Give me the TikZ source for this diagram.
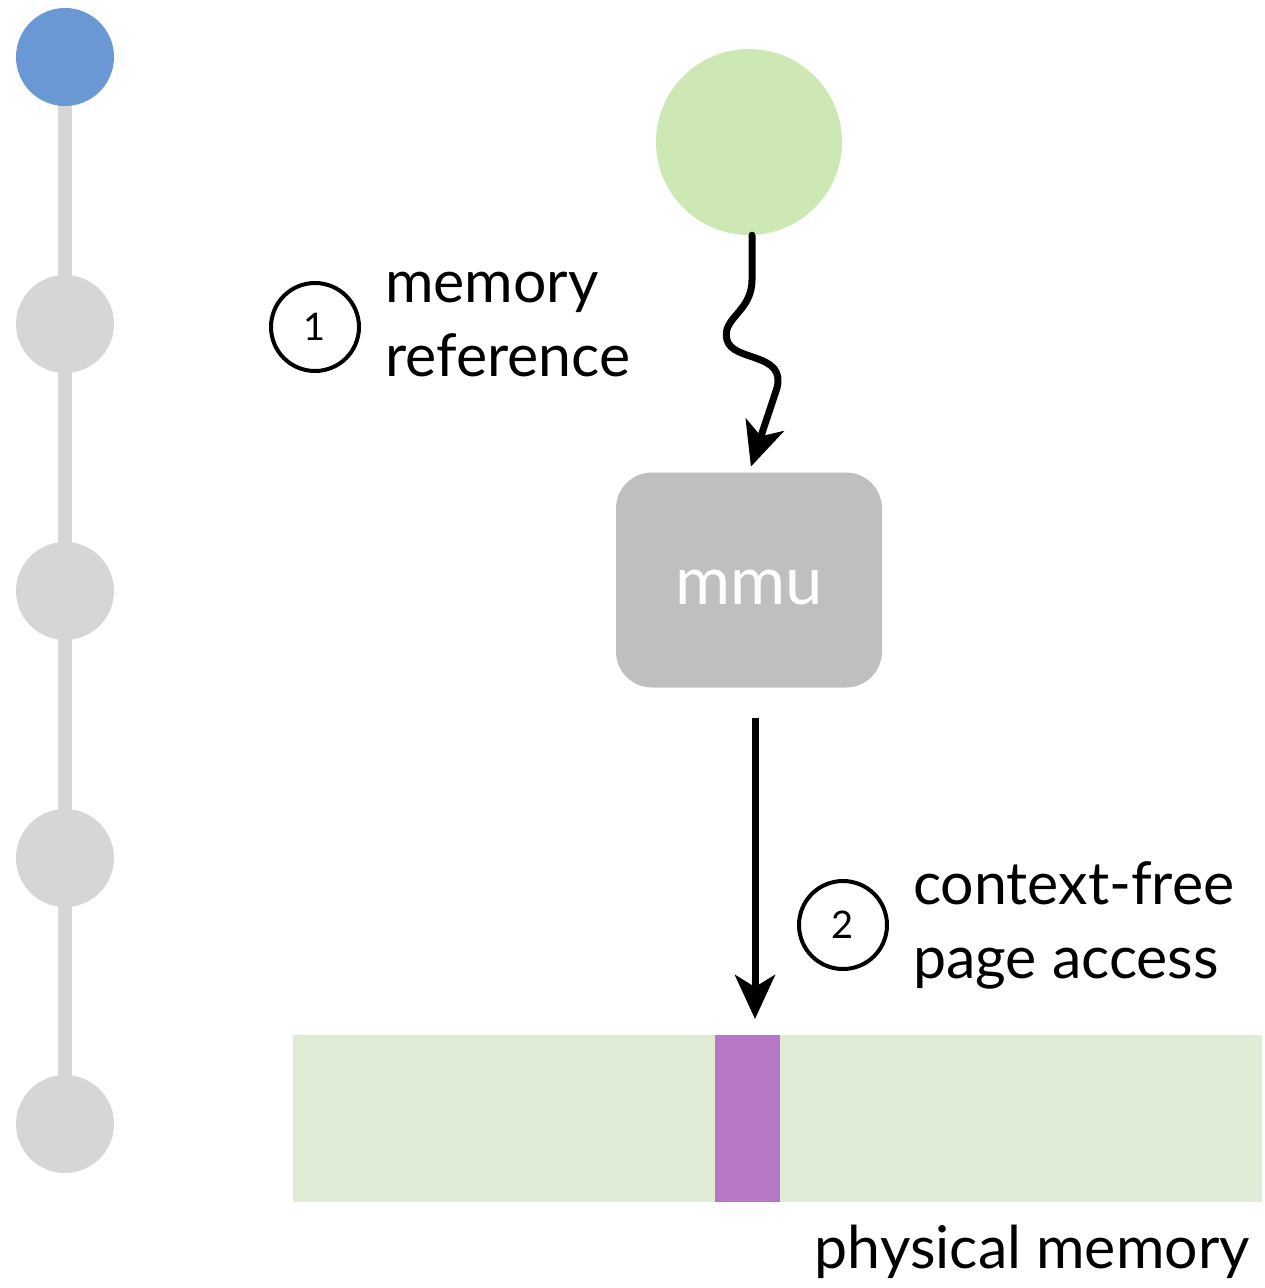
\documentclass[tikz,border=0pt]{standalone}
\usepackage{fontspec}
\setmainfont{Lato}
\usetikzlibrary{arrows.meta}

\definecolor{railgray}{HTML}{D6D6D6}
\definecolor{stepblue}{HTML}{6A98D5}
\definecolor{procgreen}{HTML}{CDE8B5}
\definecolor{mmugray}{HTML}{BFBFBF}
\definecolor{memgreen}{HTML}{E0EBD5}
\definecolor{pagepurple}{HTML}{B677C5}

\tikzset{
  stepdot/.style={circle, fill=railgray, minimum size=98pt, inner sep=0pt},
  numbadge/.style={circle, draw=black, line width=4pt, minimum size=88pt, inner sep=0pt,
    font=\fontsize{38}{44}\selectfont},
  bigtext/.style={inner sep=0pt, align=left, font=\fontsize{59}{74}\selectfont},
  flowarrow/.style={line width=7pt, -{Stealth[length=44pt, width=40pt, inset=12pt]}},
}

\begin{document}
\begin{tikzpicture}[x=1pt, y=-1pt]
  \useasboundingbox (0,0) rectangle (1264,1288);

  % progress rail on the left
  \draw[railgray, line width=14pt] (65,57) -- (65,1124);
  \node[stepdot, fill=stepblue] (s1) at (65,57) {};
  \node[stepdot] (s2) at (65,324) {};
  \node[stepdot] (s3) at (65,591) {};
  \node[stepdot] (s4) at (65,858) {};
  \node[stepdot] (s5) at (65,1124) {};

  % process and mmu
  \node[circle, fill=procgreen, minimum size=186pt, inner sep=0pt] (proc) at (749,142) {};
  \node[rectangle, rounded corners=36pt, fill=mmugray, minimum width=266pt,
        minimum height=215pt, inner sep=0pt] (mmu) at (749,580) {};
  \node[text=white, font=\fontsize{67}{67}\selectfont] (mmulabel) at (749,588) {mmu};

  % physical memory strip
  \node[rectangle, fill=memgreen, minimum width=969pt, minimum height=167pt,
        inner sep=0pt, anchor=north west] (mem) at (293,1035) {};
  \node[rectangle, fill=pagepurple, minimum width=65pt, minimum height=167pt,
        inner sep=0pt, anchor=north west] (page) at (715,1035) {};
  \node[bigtext, anchor=base east] (memlabel) at (1250,1268) {physical memory};

  % step 1: memory reference (wiggly arrow)
  \coordinate (wstart) at (752,238);
  \draw[flowarrow, line cap=round, shorten >=6pt]
    (proc.south -| wstart) -- (752,280)
    .. controls (752,312) and (721,318) .. (727,340)
    .. controls (733,362) and (786,352) .. (777,388)
    -- (mmu.north);
  \node[numbadge] (n1) at (315,327) {1};
  \node[bigtext, anchor=west] (t1) at (385,324) {memory\\reference};

  % step 2: context-free page access
  \coordinate (a2) at (755,718);
  \draw[flowarrow, shorten >=16pt] (a2) -- (a2 |- page.north);
  \node[numbadge] (n2) at (843,925) {2};
  \node[bigtext, anchor=west] (t2) at (913,925) {context-free\\page access};
\end{tikzpicture}
\end{document}
